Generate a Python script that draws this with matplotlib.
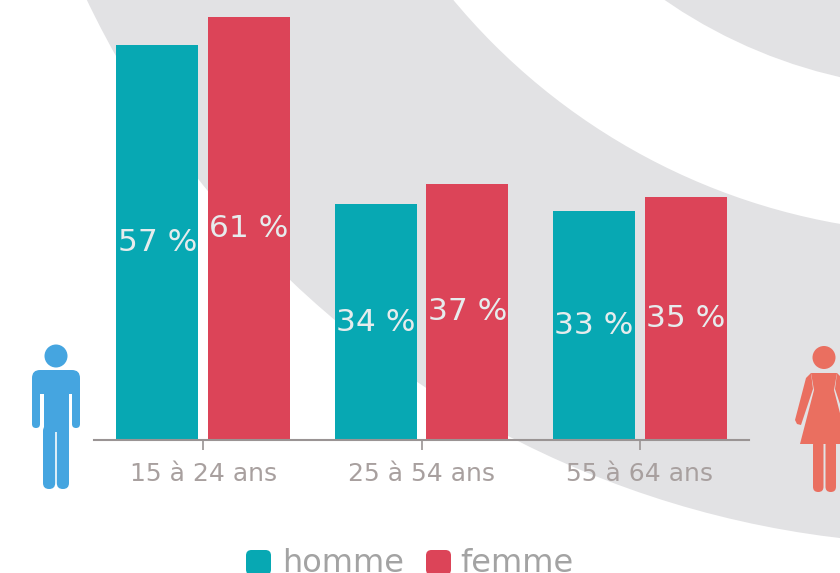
import numpy as np
import matplotlib
matplotlib.use("Agg")
import matplotlib.pyplot as plt
from matplotlib.patches import Circle, FancyBboxPatch, Polygon, Rectangle

categories = ["15 à 24 ans", "25 à 54 ans", "55 à 64 ans"]
series_names = ["homme", "femme"]
homme = [57, 34, 33]
femme = [61, 37, 35]

TEAL = "#07a8b3"
RED = "#dc4458"
BLUE = "#45a5e0"
SALMON = "#ea6f60"
GREY_BG = "#e2e2e4"
W, H = 840, 573


def rounded(ax, x0, y0, x1, y1, color, r=5.5):
    ax.add_patch(FancyBboxPatch((x0 + r, y0 + r), x1 - x0 - 2 * r, y1 - y0 - 2 * r,
                                boxstyle=f"round,pad={r},rounding_size={r}",
                                fc=color, ec="none"))


def draw_man(ax):
    c = BLUE
    ax.add_patch(Circle((56, 356), 11.5, fc=c, ec="none"))
    rounded(ax, 32, 370, 80, 394, c, r=8)
    rounded(ax, 32, 378, 40, 428, c, r=4)
    rounded(ax, 72, 378, 80, 428, c, r=4)
    ax.add_patch(Rectangle((43.5, 372), 25, 60, fc=c, ec="none"))
    rounded(ax, 43, 425, 55.2, 489, c, r=6)
    rounded(ax, 56.8, 425, 69, 489, c, r=6)


def draw_woman(ax):
    c = SALMON
    ax.add_patch(Circle((824, 357.5), 11.5, fc=c, ec="none"))
    # torso and skirt, mirrored about x=824
    ax.add_patch(Polygon([(811, 373), (837, 373), (834, 390), (848, 444), (800, 444), (814, 390)],
                         fc=c, ec="none"))
    # arms
    ax.add_patch(Polygon([(811, 373), (806, 378), (795, 420), (797, 424), (801, 425), (813, 389)],
                         fc=c, ec="none"))
    ax.add_patch(Polygon([(837, 373), (842, 378), (853, 420), (851, 424), (847, 425), (835, 389)],
                         fc=c, ec="none"))
    rounded(ax, 813, 440, 823.5, 492, c, r=5.2)
    rounded(ax, 825.5, 440, 836, 492, c, r=5.2)


fig = plt.figure(figsize=(W / 100, H / 100), dpi=100, facecolor="white")

# background layer in pixel coordinates
bg = fig.add_axes([0, 0, 1, 1])
bg.set_xlim(0, W)
bg.set_ylim(H, 0)
bg.axis("off")

center = (951, -413.5)
bg.add_patch(Circle(center, 958, fc=GREY_BG, ec="none"))
bg.add_patch(Circle(center, 647, fc="white", ec="none"))
bg.add_patch(Circle(center, 503, fc=GREY_BG, ec="none"))

draw_man(bg)
draw_woman(bg)

# legend
rounded(bg, 246, 550, 271, 575, TEAL)
rounded(bg, 426, 550, 451, 575, RED)
bg.text(282, 572, series_names[0], fontsize=23, color="#a3a3a3", ha="left", va="baseline")
bg.text(460, 572, series_names[1], fontsize=23, color="#a3a3a3", ha="left", va="baseline")

# bars
ax = fig.add_axes([94 / W, (H - 440) / H, 655 / W, 440 / H])
ax.patch.set_alpha(0)
x = np.arange(len(categories))
width = 0.375
b1 = ax.bar(x - 0.21, homme, width, color=TEAL)
b2 = ax.bar(x + 0.21, femme, width, color=RED)
ax.set_xlim(-0.5, 2.5)
ax.set_ylim(0, 63.5)
ax.set_xticks(x, categories)
ax.set_yticks([])
for s in ["top", "left", "right"]:
    ax.spines[s].set_visible(False)
ax.spines["bottom"].set_color("#9a9494")
ax.spines["bottom"].set_linewidth(1.5)
ax.tick_params(axis="x", length=7.5, width=1.2, color="#9a9494", labelsize=18,
               labelcolor="#a8a09f", pad=8)

for bars in (b1, b2):
    ax.bar_label(bars, labels=[f"{b.get_height()} %" for b in bars], label_type="center",
                 fontsize=22.5, color="#e6eced")

fig.savefig("out.png", dpi=100)
